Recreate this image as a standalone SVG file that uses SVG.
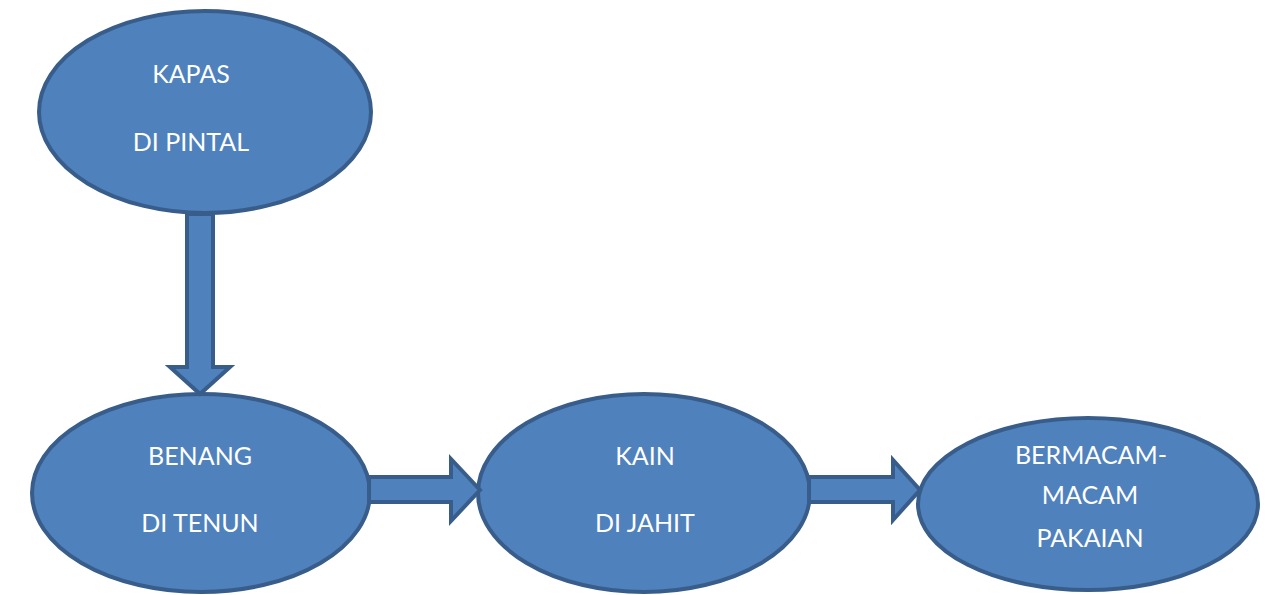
<svg xmlns="http://www.w3.org/2000/svg" width="1265" height="595" viewBox="0 0 1265 595">
<style>
.n{fill:#4F81BD;stroke:#385D8A;stroke-width:4}
.a{fill:#4F81BD;stroke:#385D8A;stroke-width:4;stroke-linejoin:miter}
text{font-family:Lato,"Liberation Sans",sans-serif;font-size:25px;fill:#FFFFFF;text-anchor:middle}
</style>
<rect width="1265" height="595" fill="#FFFFFF"/>
<g id="n1"><ellipse class="n" cx="205" cy="112" rx="166" ry="101"/><text x="191" y="83">KAPAS</text><text x="191" y="151">DI PINTAL</text></g>
<g id="n2"><ellipse class="n" cx="201" cy="493" rx="169" ry="99"/><text x="200" y="465">BENANG</text><text x="200" y="532">DI TENUN</text></g>
<g id="n3"><ellipse class="n" cx="644" cy="493" rx="166" ry="99"/><text x="645" y="465">KAIN</text><text x="645" y="532">DI JAHIT</text></g>
<g id="n4"><ellipse class="n" cx="1088" cy="504" rx="170" ry="86"/><text x="1091" y="464">BERMACAM-</text><text x="1090" y="504">MACAM</text><text x="1090" y="547">PAKAIAN</text></g>
<g id="connectors">
<path class="a" d="M187,214 L213,214 L213,367 L230,367 L200,394 L170,367 L187,367 Z"/>
<path class="a" d="M369,477 L451,477 L451,459 L480,490 L451,521 L451,502 L369,502 Z"/>
<path class="a" d="M809,477 L893,477 L893,460 L920,490 L893,520 L893,502 L809,502 Z"/>
</g>
</svg>
